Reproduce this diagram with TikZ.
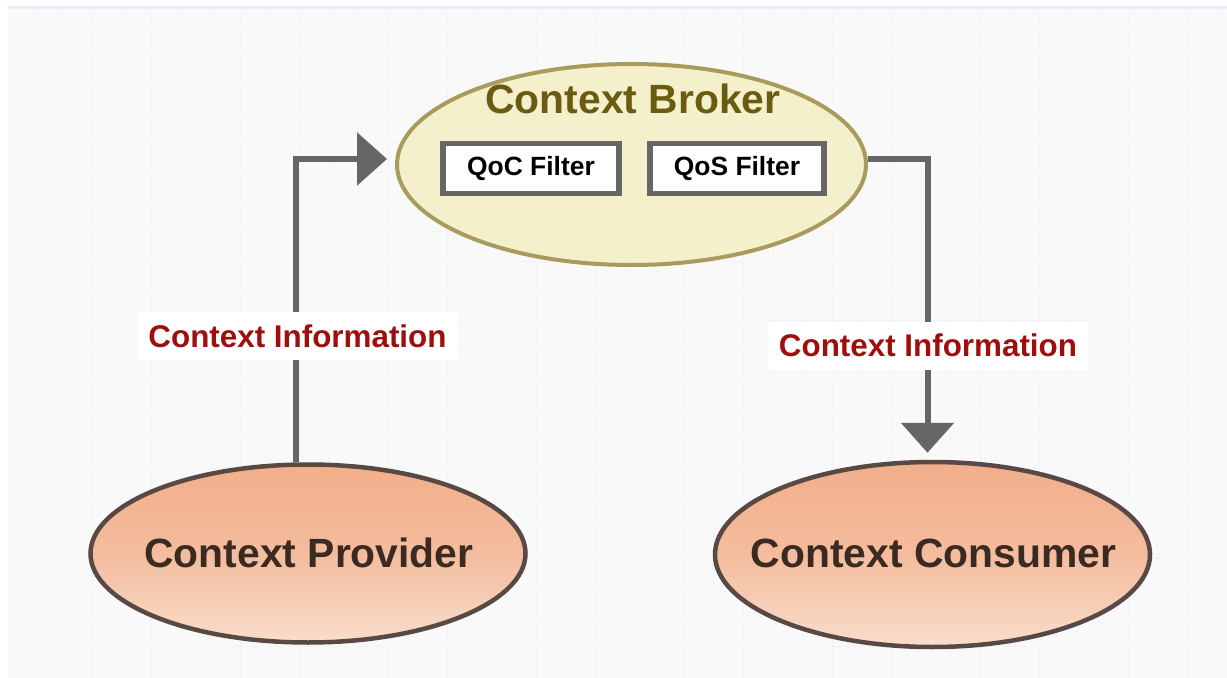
\documentclass[tikz,border=0pt]{standalone}
\usepackage{fontspec}
\setmainfont{Liberation Sans}
\usetikzlibrary{shapes.geometric,arrows.meta}

\definecolor{paper}{HTML}{F9F9F9}
\definecolor{gridline}{HTML}{F3F3F3}
\definecolor{topbar}{HTML}{E9EEF9}
\definecolor{brokerfill}{HTML}{F4F0CB}
\definecolor{brokerdraw}{HTML}{A89B5B}
\definecolor{brokertext}{HTML}{6B5B12}
\definecolor{wire}{HTML}{666666}
\definecolor{labelred}{HTML}{A00D0D}
\definecolor{peachtop}{HTML}{F2AE8A}
\definecolor{peachbot}{HTML}{F8DDCB}
\definecolor{peachdraw}{HTML}{594944}
\definecolor{peachtext}{HTML}{3A2A22}

\newcommand{\sz}[1]{\fontsize{#1}{#1}\selectfont}

\begin{document}
\begin{tikzpicture}[x=1bp,y=-1bp,
  broker/.style={ellipse, draw=brokerdraw, fill=brokerfill, line width=4bp,
    inner sep=0pt, minimum width=469bp, minimum height=201bp},
  brokertitle/.style={text=brokertext, font=\bfseries\sz{41}, inner sep=0pt},
  filterbox/.style={draw=wire, fill=white, line width=5.5bp, inner sep=0pt,
    minimum height=50bp, font=\bfseries\sz{26.5}, text=black},
  party/.style={ellipse, draw=peachdraw, line width=4.5bp, inner sep=0pt,
    top color=peachtop, bottom color=peachbot, middle color=peachtop!70!peachbot},
  partytext/.style={inner sep=0pt, font=\bfseries\sz{41}, text=peachtext},
  flow/.style={draw=wire, line width=6bp,
    -{Triangle[length=30bp,width=52bp]}},
  infolabel/.style={fill=white, inner sep=0pt, minimum height=48bp,
    text=labelred, font=\bfseries\sz{31.5}}
]
\useasboundingbox (0,0) rectangle (1227,678);

% page background with a faint grid
\fill[white] (0,0) rectangle (1227,678);
\fill[topbar] (8,6) rectangle (1227,9);
\fill[paper] (8,9) rectangle (1227,678);
\foreach \i in {1,...,41}
  \draw[gridline, line width=1bp] ({3.5+29.6*\i},9) -- ({3.5+29.6*\i},678);
\foreach \j in {0,...,21}
  \draw[gridline, line width=1bp] (8,{24.4+29.6*\j}) -- (1227,{24.4+29.6*\j});

% broker with its two filters
\node[broker] (broker) at (631.5,164.5) {};
\node[brokertitle] (title) at (633,99) {Context Broker};
\node[filterbox, minimum width=176bp] (qoc) at (531,168.5) {QoC Filter};
\node[filterbox, minimum width=174bp] (qos) at (737,168.5) {QoS Filter};

% provider and consumer
\node[party, minimum width=435bp, minimum height=178bp] (prov) at (308,553.5) {};
\node[partytext] (provtext) at (309,553) {Context Provider};
\node[party, minimum width=435bp, minimum height=185bp] (cons) at (932.5,554.5) {};
\node[partytext] (constext) at (933.5,553) {Context Consumer};

% information flow
\draw[flow] ([xshift=-12.5bp]prov.north) |- ([xshift=-8bp,yshift=5.5bp]broker.west);
\draw[flow] ([yshift=5.5bp]broker.east) -| ([xshift=-5bp,yshift=7bp]cons.north);

\node[infolabel, minimum width=321bp] (infoL) at (297.5,336) {Context Information};
\node[infolabel, minimum width=320bp] (infoR) at (928,345.5) {Context Information};
\end{tikzpicture}
\end{document}
